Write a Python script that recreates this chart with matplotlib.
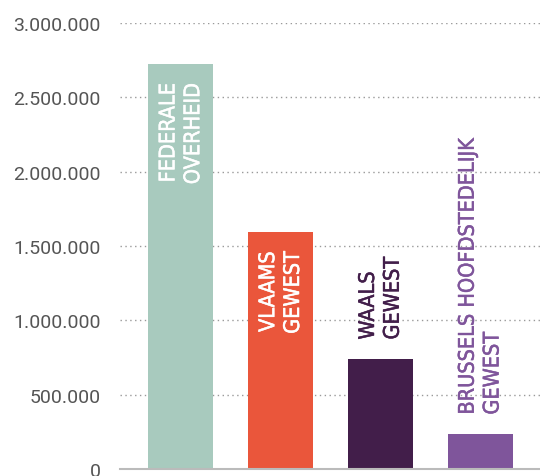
import matplotlib
matplotlib.use("Agg")
import matplotlib.pyplot as plt
import matplotlib.patheffects as pe
from matplotlib.ticker import FuncFormatter

categories = ["FEDERALE\nOVERHEID", "VLAAMS\nGEWEST", "WAALS\nGEWEST", "BRUSSELS HOOFDSTEDELIJK\nGEWEST"]
values = [2724000, 1594000, 740000, 235000]
colors = ["#a8cabe", "#ea563b", "#421e4a", "#7f559b"]
label_inside = [True, True, False, False]
label_colors = ["white", "white", "#421e4a", "#7f559b"]
yticks = [0, 500000, 1000000, 1500000, 2000000, 2500000, 3000000]

fig = plt.figure(figsize=(5.4, 4.77), dpi=100)
ax = fig.add_axes([120/540, 1-470/477, 1-120/540, (470-24)/477])

x = list(range(len(values)))
ax.bar(x, values, width=0.65, color=colors, zorder=3)

ax.set_xlim(-0.61, 3.6)
ax.set_ylim(0, 3000000)
ax.set_yticks(yticks)
ax.yaxis.set_major_formatter(FuncFormatter(lambda v, p: f"{int(v):,}".replace(",", ".")))
ax.tick_params(axis="y", length=0, pad=14, labelsize=14, labelcolor="#555555")
for lab in ax.get_yticklabels():
    lab.set_family("Roboto")
ax.set_xticks([])
ax.grid(axis="y", linestyle=(0, (1, 2.5)), color="#999999", linewidth=1.0, zorder=0)
for s in ["top", "right", "left"]:
    ax.spines[s].set_visible(False)
ax.spines["bottom"].set_color("#bbbbbb")
ax.spines["bottom"].set_linewidth(1.5)
ax.spines["bottom"].set_zorder(4)

for xi, v, lab, inside, lc in zip(x, values, categories, label_inside, label_colors):
    fx = [pe.withStroke(linewidth=0.35, foreground=lc)]
    if inside:
        ax.annotate(lab, (xi, v), xytext=(0, -14), textcoords="offset points",
                    rotation=90, ha="center", va="top", multialignment="right",
                    color=lc, fontsize=15.5, family="DejaVu Sans", fontstretch="condensed",
                    linespacing=1.3, zorder=5, path_effects=fx)
    else:
        ax.annotate(lab, (xi, v), xytext=(0, 14), textcoords="offset points",
                    rotation=90, ha="center", va="bottom", multialignment="left",
                    color=lc, fontsize=15.5, family="DejaVu Sans", fontstretch="condensed",
                    linespacing=1.3, zorder=5, path_effects=fx)

fig.savefig("out.png", dpi=100)
